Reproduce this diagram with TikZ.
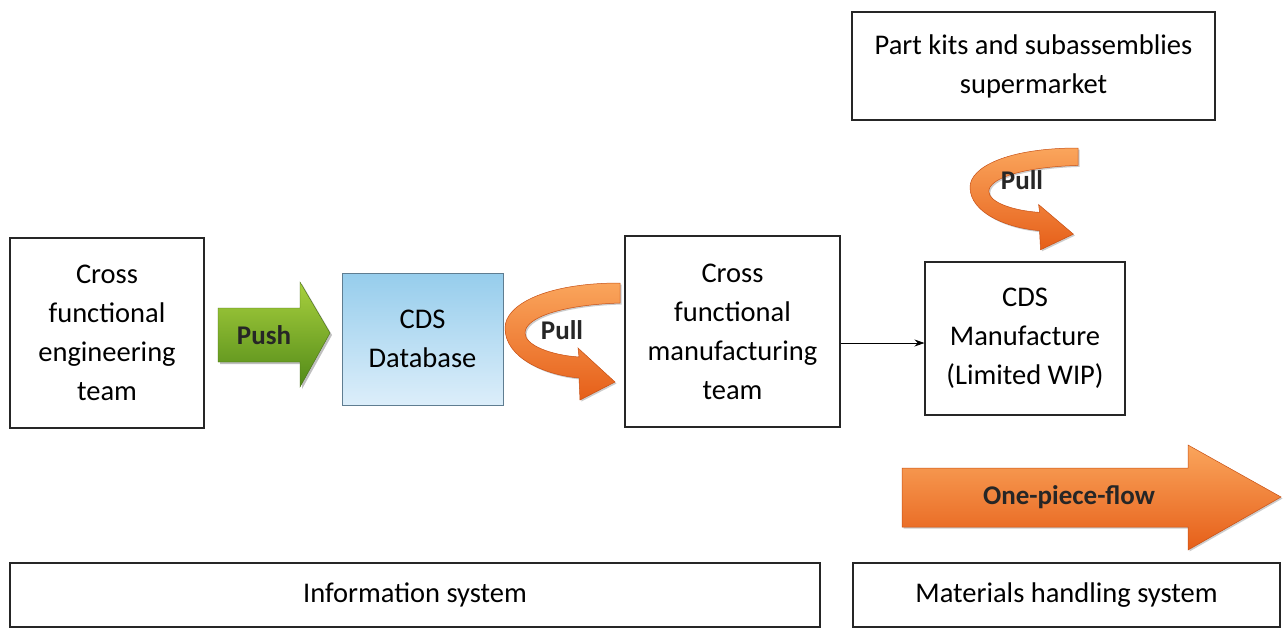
\documentclass[tikz,border=0pt]{standalone}
\usepackage{fontspec}
\setmainfont{Carlito}
\usetikzlibrary{arrows.meta,shadows}
\begin{document}
\begin{tikzpicture}[x=1pt,y=-1pt,
  box/.style={draw=black!85, line width=1.1pt, fill=white, align=center,
    font=\fontsize{28.5}{39}\selectfont, inner sep=0pt},
  dbbox/.style={draw={rgb,255:red,95;green,125;blue,145}, line width=0.9pt,
    top color={rgb,255:red,150;green,205;blue,236},
    bottom color={rgb,255:red,220;green,238;blue,250},
    align=center, font=\fontsize{28.5}{39}\selectfont, inner sep=0pt},
  lbl/.style={font=\bfseries\fontsize{27}{30}\selectfont, text=black!85},
  orangefill/.style={top color={rgb,255:red,250;green,165;blue,92},
    bottom color={rgb,255:red,230;green,95;blue,25},
    draw={rgb,255:red,200;green,80;blue,20}, line width=0.5pt,
    drop shadow={shadow xshift=1.5pt, shadow yshift=-1.5pt, opacity=0.4}},
  greenfill/.style={top color={rgb,255:red,168;green,208;blue,62},
    bottom color={rgb,255:red,82;green,138;blue,24},
    draw={rgb,255:red,70;green,110;blue,20}, line width=0.4pt,
    drop shadow={shadow xshift=2pt, shadow yshift=-2pt, opacity=0.5}},
  link/.style={-{Stealth[length=10pt,width=7pt]}, line width=0.8pt},
  pullarrow/.pic={
    \path[orangefill] (115,0) .. controls (40,0) and (0,22) .. (0,45)
      .. controls (0,75) and (40,92) .. (74,95) -- (75,117) -- (110,99)
      -- (73,65) -- (74,74) .. controls (45,72) and (20,62) .. (20,50)
      .. controls (20,35) and (55,22) .. (115,20) -- cycle;
  }
]
\useasboundingbox (0,0) rectangle (1285,630);
\fill[white] (0,0) rectangle (1285,630);

% process boxes
\node[box, minimum width=194, minimum height=190] (eng) at (107,333)
  {Cross\\functional\\engineering\\team};
\node[dbbox, minimum width=161, minimum height=132] (db) at (422.5,339)
  {CDS\\Database};
\node[box, minimum width=215, minimum height=191] (mfg) at (732.5,331.5)
  {Cross\\functional\\manufacturing\\team};
\node[box, minimum width=200, minimum height=153] (cdsm) at (1025,338.5)
  {CDS\\Manufacture\\(Limited WIP)};
\node[box, minimum width=363, minimum height=108] (kits) at (1033.5,66)
  {Part kits and subassemblies\\supermarket};
\node[box, minimum width=810, minimum height=64] (info) at (415,595)
  {Information system};
\node[box, minimum width=427, minimum height=64] (mat) at (1066.5,595)
  {Materials handling system};

% push arrow
\path[greenfill] (218,308) -- (300,308) -- (300,282) -- (330,333)
  -- (300,387) -- (300,362) -- (218,362) -- cycle;
\node[lbl] (push) at (264,335) {Push};

% pull arrows
\pic at (505,283) {pullarrow};
\node[lbl] (pull1) at (562,330) {Pull};
\pic[xscale=0.94, yscale=0.87] at (970,148) {pullarrow};
\node[lbl] (pull2) at (1022,180) {Pull};

% one-piece-flow arrow
\path[orangefill] (902,468) -- (1188,468) -- (1188,445) -- (1281,497)
  -- (1188,550) -- (1188,527) -- (902,527) -- cycle;
\node[lbl] (opf) at (1069,497) {One-piece-flow};

% link to manufacture
\coordinate (linkend) at (cdsm.west |- 0,343);
\draw[link] (mfg.east |- linkend) -- (linkend);
\end{tikzpicture}
\end{document}
